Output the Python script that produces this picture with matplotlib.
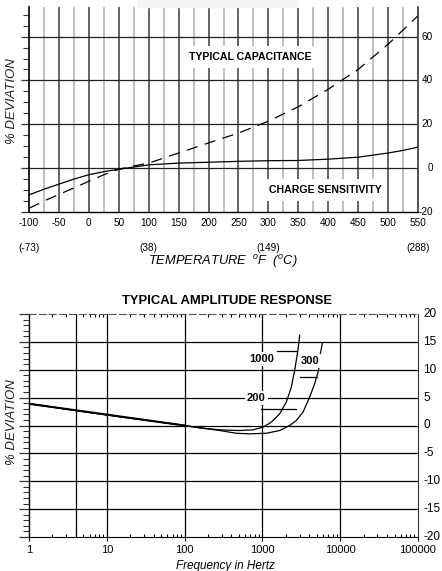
import numpy as np
import matplotlib
matplotlib.use('Agg')
import matplotlib.pyplot as plt
import matplotlib.transforms as mtransforms
from matplotlib.ticker import MultipleLocator, NullFormatter

plt.rcParams['font.family'] = ['Liberation Sans', 'DejaVu Sans']
plt.rcParams['axes.unicode_minus'] = False
plt.rcParams['mathtext.fontset'] = 'custom'
plt.rcParams['mathtext.rm'] = 'Liberation Sans'
plt.rcParams['mathtext.it'] = 'Liberation Sans:italic'

# ---- temperature chart data (deg F vs % deviation)
temp_f = [-100, -75, -50, -25, 0, 25, 50, 75, 100, 150, 200, 250, 300, 350, 400, 450, 500, 525, 550]
capacitance = [-18.3, -15.0, -12.0, -9.0, -6.0, -3.0, -0.5, 1.0, 2.3, 6.9, 11.5, 16.0, 21.4, 28.0, 36.0, 45.0, 56.5, 63.0, 69.5]
charge_sens = [-12.2, -9.6, -7.3, -5.0, -3.0, -1.6, -0.5, 0.5, 1.5, 2.3, 2.7, 3.1, 3.4, 3.5, 4.1, 5.0, 6.9, 8.1, 9.6]
temp_ticks = list(range(-100, 551, 50))
temp_yticks = [-20, 0, 20, 40, 60]
celsius_pos = [-100, 100, 300, 550]
celsius_lbl = ['(-73)', '(38)', '(149)', '(288)']

# ---- amplitude response data (Hz vs % deviation)
freq_1000 = [1, 10, 100, 156, 282, 511, 757, 1018, 1303, 1667, 2031, 2355, 2600, 2870, 3015]
dev_1000 = [3.9, 1.9, 0.0, -0.42, -0.78, -0.9, -0.78, -0.3, 0.6, 2.1, 4.2, 6.9, 9.9, 13.6, 16.2]
freq_300 = [1, 10, 100, 156, 282, 462, 687, 1125, 1667, 2244, 2728, 3326, 4053, 4700, 5190, 5450, 5570, 5900]
dev_300 = [3.9, 1.9, 0.0, -0.42, -0.9, -1.39, -1.5, -1.39, -0.9, 0.0, 0.9, 2.4, 5.1, 7.5, 9.6, 11.1, 12.95, 14.8]
freq_grid = [4, 10, 100, 1000, 10000]
freq_ticks = [1, 10, 100, 1000, 10000, 100000]
freq_lbl = ['1', '10', '100', '1000', '10000', '100000']
amp_yticks = list(range(-20, 21, 5))
# curve labels: text, x, y, leader x0, leader x1, leader y
curve_labels = [('1000', 969, 11.9, 1556, 2730, 13.4),
                ('300', 4053, 11.6, 3015, 5035, 8.7),
                ('200', 836, 5.0, 955, 2728, 3.0)]

W, H = 442, 571
fig = plt.figure(figsize=(W / 100, H / 100), dpi=100)
fig.patches.append(plt.Rectangle((138 / W, 1 - 7 / H), 160 / W, 7 / H,
                                 transform=fig.transFigure, color='#f4f4f4', zorder=0))

# ================= top chart =================
ax = fig.add_axes([29 / W, 1 - 212 / H, 389 / W, 205 / H])
ax.set_xlim(-100, 550)
ax.set_ylim(-20, 73.5)
for x in range(-75, 550, 50):
    ax.axvline(x, color='#b4b4b4', lw=1.2, zorder=1)
for x in range(-50, 550, 50):
    ax.axvline(x, color='#4a4a4a', lw=1.2, zorder=1)
for y in [0, 20, 40, 60]:
    ax.axhline(y, color='#222222', lw=0.9, zorder=1)

ax.plot(temp_f, capacitance, color='black', lw=0.9, dashes=(9, 6), zorder=3)
ax.plot(temp_f, charge_sens, color='black', lw=0.9, zorder=3)

ax.text(269, 50.7, 'TYPICAL CAPACITANCE', fontsize=7.6, fontweight='bold', ha='center',
        va='center', zorder=4, bbox=dict(facecolor='white', edgecolor='none', pad=4))
ax.text(395, -10, 'CHARGE SENSITIVITY', fontsize=7.6, fontweight='bold', ha='center',
        va='center', zorder=4, bbox=dict(facecolor='white', edgecolor='none', pad=4))

ax.set_xticks(temp_ticks)
ax.set_yticks(temp_yticks)
ax.yaxis.set_minor_locator(MultipleLocator(5))
ax.tick_params(axis='x', length=0, pad=4, labelsize=7.2)
ax.tick_params(axis='y', which='both', left=True, right=False, labelleft=False,
               labelright=False, direction='out', color='#333333')
ax.tick_params(axis='y', which='major', length=6, width=0.9)
ax.tick_params(axis='y', which='minor', length=4, width=0.8)
ytr = mtransforms.blended_transform_factory(ax.transAxes, ax.transData)
for y in temp_yticks:
    ax.text(1 + 15 / 389, y, str(y), transform=ytr, ha='right', va='center', fontsize=7.2)
ax.spines['top'].set_visible(False)
ax.spines['left'].set_linewidth(1.2)
ax.spines['right'].set_linewidth(1.2)
ax.spines['right'].set_color('#333333')
ax.spines['bottom'].set_linewidth(1.0)

tr = mtransforms.blended_transform_factory(ax.transData, fig.transFigure)
for x, lbl in zip(celsius_pos, celsius_lbl):
    ax.text(x, 1 - 248 / H, lbl, transform=tr, ha='center', va='center', fontsize=7.2)
fig.text(0.505, 1 - 261 / H, r'TEMPERATURE  $^{o}$F  ($^{o}$C)', ha='center', va='center',
         fontsize=9.3, fontstyle='italic')
fig.text(12 / W, 1 - 101 / H, '% DEVIATION', rotation=90, ha='center', va='center',
         fontsize=9.5, fontstyle='italic', color='#222222')

# ================= bottom chart =================
bx = fig.add_axes([29 / W, 1 - 537 / H, 389 / W, 223 / H])
bx.set_xscale('log')
bx.set_xlim(1, 100000)
bx.set_ylim(-20, 20)
for x in freq_grid:
    bx.axvline(x, color='black', lw=0.9, zorder=1)
for y in range(-15, 20, 5):
    bx.axhline(y, color='black', lw=0.9, zorder=1)

bx.plot(freq_1000, dev_1000, color='black', lw=0.9, zorder=3)
bx.plot(freq_300, dev_300, color='black', lw=0.9, zorder=3)
bx.plot([1, 100], [3.9, 0.0], color='black', lw=1.5, zorder=3)

for txt, tx, ty, lx0, lx1, ly in curve_labels:
    bx.plot([lx0, lx1], [ly, ly], color='black', lw=0.9, zorder=3)
    bx.text(tx, ty, txt, fontsize=8, fontweight='bold', ha='center', va='center', zorder=4,
            bbox=dict(facecolor='white', edgecolor='none', pad=1.5))

bx.set_xticks(freq_ticks)
bx.set_xticklabels(freq_lbl)
bx.xaxis.set_minor_formatter(NullFormatter())
bx.tick_params(axis='x', which='major', length=3, width=0.8, pad=3, labelsize=8)
bx.tick_params(axis='x', which='minor', direction='in', length=2, width=0.8, top=True)
bx.set_yticks(amp_yticks)
bx.yaxis.set_minor_locator(MultipleLocator(1))
bx.tick_params(axis='y', which='both', left=True, right=False, labelleft=False,
               labelright=False, direction='out', color='#333333')
bx.tick_params(axis='y', which='major', length=7, width=0.9)
bx.tick_params(axis='y', which='minor', length=4, width=0.8)
ytr2 = mtransforms.blended_transform_factory(bx.transAxes, bx.transData)
for y in amp_yticks:
    bx.text(1 + 5 / 389, y, str(y), transform=ytr2, ha='left', va='center', fontsize=8.5)
bx.spines['top'].set_linestyle((0, (6, 3)))
bx.spines['top'].set_color('#555555')
bx.spines['right'].set_color('#333333')
bx.spines['left'].set_linewidth(1.0)

fig.text(0.513, 1 - 301 / H, 'TYPICAL AMPLITUDE RESPONSE', ha='center', va='center',
         fontsize=9.4, fontweight='bold')
fig.text(12 / W, 1 - 422 / H, '% DEVIATION', rotation=90, ha='center', va='center',
         fontsize=9.5, fontstyle='italic', color='#222222')
fig.text(225 / W, 1 - 566 / H, 'Frequency in Hertz', ha='center', va='center',
         fontsize=8.5, fontstyle='italic')

fig.savefig('out.png', dpi=100)
